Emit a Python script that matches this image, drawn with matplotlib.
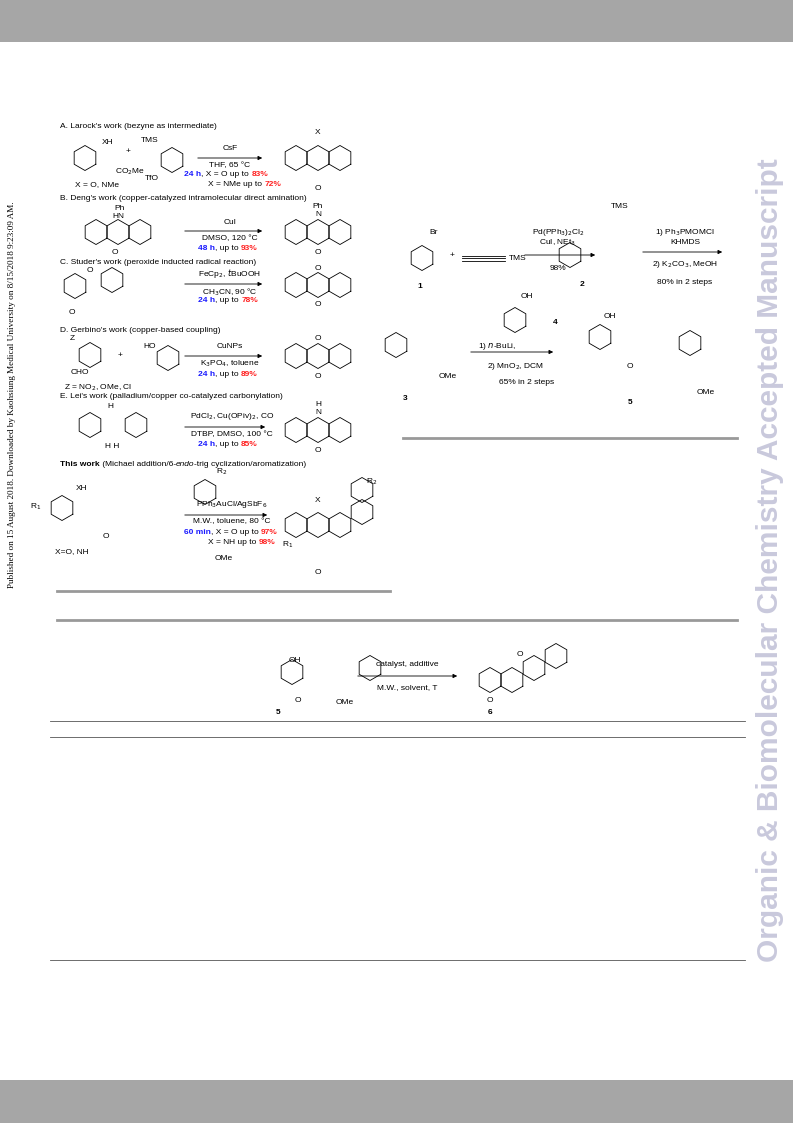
import numpy as np
import matplotlib.pyplot as plt

# ==========================================
# PAGE TEXT / SCHEME DATA
# ==========================================

BLUE = "#1a1aff"
RED = "#ff2020"

headers = [
    (60, 127, "A. Larock's work (bezyne as intermediate)"),
    (60, 198, "B. Deng's work (copper-catalyzed intramolecular direct amination)"),
    (60, 263, "C. Studer's work (peroxide inducted radical reaction)"),
    (60, 330, "D. Gerbino's work (copper-based coupling)"),
    (60, 397, "E. Lei's work (palladium/copper co-catalyzed carbonylation)"),
]

# (x, y, text) plain labels, centred
labels = [
    (108, 143, "XH"), (128, 152, "+"), (150, 141, "TMS"), (130, 172, "CO$_2$Me"),
    (152, 178, "TfO"), (97, 185, "X = O, NMe"), (230, 149, "CsF"), (230, 166, "THF, 65 °C"),
    (318, 133, "X"), (318, 188, "O"),
    (120, 208, "Ph"), (118, 216, "HN"), (115, 252, "O"), (230, 222, "CuI"),
    (230, 239, "DMSO, 120 °C"), (318, 207, "Ph"), (318, 215, "N"), (318, 252, "O"),
    (90, 270, "O"), (72, 313, "O"), (230, 274, "FeCp$_2$, $t$BuOOH"),
    (230, 292, "CH$_3$CN, 90 °C"), (318, 268, "O"), (318, 305, "O"),
    (72, 339, "Z"), (80, 372, "CHO"), (120, 355, "+"), (150, 346, "HO"),
    (230, 346, "CuNPs"), (230, 364, "K$_3$PO$_4$, toluene"), (98, 388, "Z = NO$_2$, OMe, Cl"),
    (318, 339, "O"), (318, 376, "O"),
    (110, 407, "H"), (112, 447, "H H"), (232, 417, "PdCl$_2$, Cu(OPiv)$_2$, CO"),
    (232, 435, "DTBP, DMSO, 100 °C"), (318, 405, "H"), (318, 412, "N"), (318, 451, "O"),
    (36, 507, "R$_1$"), (82, 488, "XH"), (222, 472, "R$_2$"), (106, 536, "O"),
    (224, 558, "OMe"), (72, 552, "X=O, NH"), (232, 505, "PPh$_3$AuCl/AgSbF$_6$"),
    (232, 522, "M.W., toluene, 80 °C"), (372, 482, "R$_2$"), (288, 545, "R$_1$"),
    (318, 500, "X"), (318, 573, "O"),
    # right scheme
    (434, 233, "Br"), (452, 255, "+"), (518, 258, "TMS"), (558, 232, "Pd(PPh$_3$)$_2$Cl$_2$"),
    (558, 243, "CuI, NEt$_3$"), (558, 268, "98%"), (620, 206, "TMS"),
    (685, 232, "1) Ph$_3$PMOMCl"), (685, 243, "KHMDS"), (685, 265, "2) K$_2$CO$_3$, MeOH"),
    (685, 283, "80% in 2 steps"), (448, 376, "OMe"), (497, 346, "1) $n$-BuLi,"),
    (527, 297, "OH"), (515, 366, "2) MnO$_2$, DCM"), (527, 382, "65% in 2 steps"),
    (610, 317, "OH"), (630, 367, "O"), (706, 392, "OMe"),
    # bottom scheme
    (295, 660, "OH"), (298, 700, "O"), (345, 703, "OMe"), (407, 664, "catalyst, additive"),
    (407, 688, "M.W., solvent, T"), (490, 700, "O"), (520, 654, "O"),
]

bold_labels = [(420, 286, "1"), (582, 285, "2"), (405, 398, "3"), (555, 323, "4"),
               (630, 402, "5"), (278, 712, "5"), (490, 713, "6")]

# rich text rows: (x, y, [(text, colour, bold)])
rich_rows = [
    (184, 175, [("24 h", BLUE, True), (", X = O up to ", "k", False), ("83%", RED, True)]),
    (208, 185, [("X = NMe up to ", "k", False), ("72%", RED, True)]),
    (198, 249, [("48 h", BLUE, True), (", up to ", "k", False), ("93%", RED, True)]),
    (198, 301, [("24 h", BLUE, True), (", up to ", "k", False), ("78%", RED, True)]),
    (198, 374, [("24 h", BLUE, True), (", up to ", "k", False), ("89%", RED, True)]),
    (198, 445, [("24 h", BLUE, True), (", up to ", "k", False), ("85%", RED, True)]),
    (60, 465, [("This work", "k", True), (" (Michael addition/6-", "k", False),
               ("endo", "k", False), ("-trig cyclization/aromatization)", "k", False)]),
    (184, 532, [("60 min", BLUE, True), (", X = O up to ", "k", False), ("97%", RED, True)]),
    (208, 543, [("X = NH up to ", "k", False), ("98%", RED, True)]),
]

# arrows: (x0, x1, y)
arrows = [(195, 265, 158), (182, 265, 231), (182, 265, 284), (182, 265, 356),
          (182, 268, 427), (182, 270, 515), (522, 598, 255), (640, 725, 252),
          (468, 556, 352), (355, 460, 676)]

# rings: (cx, cy)
rings = [(85, 158), (172, 160), (296, 158), (318, 158), (340, 158),
         (96, 232), (118, 232), (140, 232), (296, 232), (318, 232), (340, 232),
         (75, 286), (112, 280), (296, 285), (318, 285), (340, 285),
         (90, 355), (168, 358), (296, 356), (318, 356), (340, 356),
         (90, 425), (136, 425), (296, 430), (318, 430), (340, 430),
         (62, 508), (205, 492), (296, 525), (318, 525), (340, 525), (362, 512), (362, 490),
         (422, 258), (570, 255), (396, 345), (515, 320), (600, 337), (690, 343),
         (292, 672), (370, 668), (490, 680), (512, 680), (534, 668), (556, 656)]

# horizontal rules: (x0, x1, y, colour, width)
rules = [(57, 390, 591, "#999999", 2.0), (57, 737, 620, "#999999", 2.0),
         (403, 737, 438, "#999999", 2.0), (50, 745, 721, "#555555", 0.6),
         (50, 745, 737, "#555555", 0.6), (50, 745, 960, "#555555", 0.6)]

# ==========================================
# DRAW
# ==========================================

fig = plt.figure(figsize=(7.93, 11.23), dpi=100)
ax = fig.add_axes([0, 0, 1, 1])
ax.set_xlim(0, 793)
ax.set_ylim(1123, 0)
ax.axis("off")

ax.add_patch(plt.Rectangle((0, 0), 793, 42, color="#a6a6a6", lw=0))
ax.add_patch(plt.Rectangle((0, 1080), 793, 43, color="#a6a6a6", lw=0))

ax.text(770, 560, "Organic & Biomolecular Chemistry Accepted Manuscript",
        rotation=90, ha="center", va="center", fontsize=21.5,
        fontweight="bold", color="#c9c9dc", family="Liberation Sans")
ax.text(12, 395, "Published on 15 August 2018. Downloaded by Kaohsiung Medical "
        "University on 8/15/2018 9:23:09 AM.", rotation=90, ha="center",
        va="center", fontsize=6.6, family="Liberation Serif")

FS = 6.0
FAM = "Liberation Sans"

for x, y, s in headers:
    ax.text(x, y, s, fontsize=FS, va="center", family=FAM)

for x, y, s in labels:
    ax.text(x, y, s, fontsize=FS, ha="center", va="center", family=FAM)

for x, y, s in bold_labels:
    ax.text(x, y, s, fontsize=FS, ha="center", va="center",
            fontweight="bold", family=FAM)

for x, y, pieces in rich_rows:
    prev = None
    for txt, col, bold in pieces:
        w = "bold" if bold else "normal"
        st = "italic" if txt == "endo" else "normal"
        if prev is None:
            prev = ax.text(x, y, txt, fontsize=FS, color=col, fontweight=w,
                           va="center", family=FAM, style=st)
        else:
            prev = ax.annotate(txt, xy=(1, 0.5), xycoords=prev, fontsize=FS,
                               color=col, fontweight=w, va="center",
                               family=FAM, style=st)

for x0, x1, y in arrows:
    ax.annotate("", xy=(x1, y), xytext=(x0, y),
                arrowprops=dict(arrowstyle="-|>", lw=0.6, color="k",
                                mutation_scale=6))

r = 12.5
ang = np.deg2rad(np.arange(30, 391, 60))
for cx, cy in rings:
    ax.plot(cx + r * np.cos(ang), cy + r * np.sin(ang), color="k", lw=0.6)

# alkyne for TMS-acetylene
for dy in (-2.5, 0, 2.5):
    ax.plot([462, 505], [258 + dy, 258 + dy], color="k", lw=0.6)

for x0, x1, y, c, w in rules:
    ax.plot([x0, x1], [y, y], color=c, lw=w)

plt.savefig("out.png", dpi=100)
